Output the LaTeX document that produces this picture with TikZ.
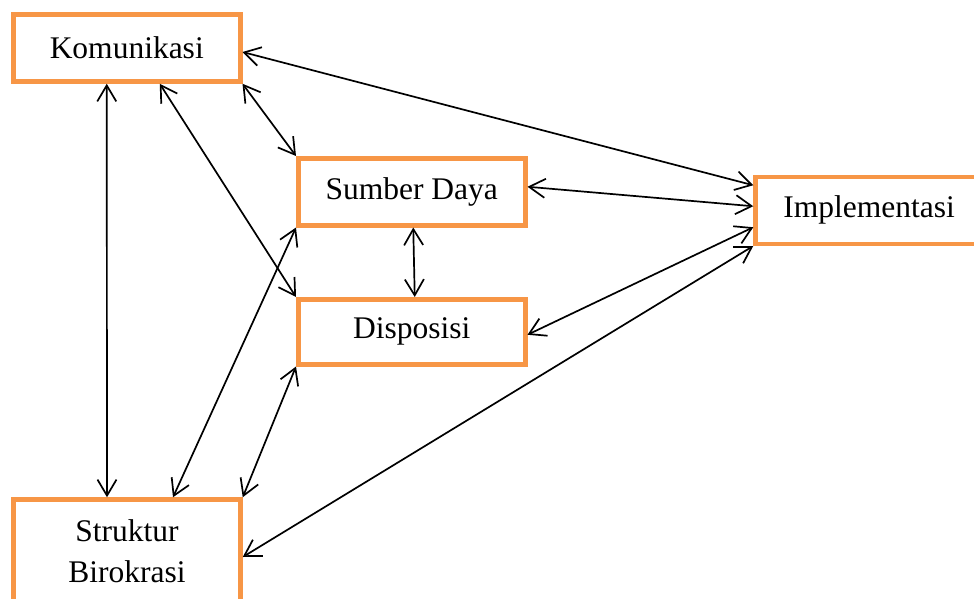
\documentclass[tikz,border=0pt]{standalone}
\usepackage{fontspec}
\setmainfont{Liberation Serif}
\usetikzlibrary{arrows.meta,calc}
\definecolor{boxorange}{HTML}{F79646}
\begin{document}
\begin{tikzpicture}[x=1pt,y=-1pt,
  box/.style={draw=boxorange, line width=4.5pt, fill=white,
    minimum width=227pt, minimum height=67pt, inner sep=0pt,
    font=\fontsize{31.5}{41}\selectfont, align=center},
  barb/.tip={Straight Barb[length=16pt,width=19pt]},
  link/.style={line width=1.7pt, barb-barb}]
\useasboundingbox (0,0) rectangle (974,599);
\clip (0,0) rectangle (974,599);

% factor boxes
\node[box] (kom) at (126.75,48) {Komunikasi};
\node[box] (sd)  at (411.75,191.75) {Sumber Daya};
\node[box, minimum height=65pt] (dis) at (411.75,331.75) {Disposisi};
\node[box] (imp) at (869,210.25) {Implementasi};
\node[box, minimum height=104pt] (sb) at (127,551.5) {Struktur\\Birokrasi};

% links to Implementasi
\draw[link] ([shift={(0,4)}]kom.east) -- ([shift={(0,-25)}]imp.west);
\draw[link] ([shift={(0,-5)}]sd.east) -- ([shift={(0,-4)}]imp.west);
\draw[link] ([shift={(0,3)}]dis.east) -- ([shift={(0,17)}]imp.west);
\draw[link] ([shift={(0,5.5)}]sb.east) -- (imp.south west);

% links among the factors
\draw[link] ([shift={(-20,0)}]kom.south) -- ([shift={(-20,0)}]sb.north);
\draw[link] ([shift={(33,0)}]kom.south) -- (dis.north west);
\draw[link] (kom.south east) -- (sd.north west);
\draw[link] ([shift={(1.5,0)}]sd.south) -- ([shift={(3,0)}]dis.north);
\draw[link] ([shift={(46,0)}]sb.north) -- (sd.south west);
\draw[link] (sb.north east) -- (dis.south west);
\end{tikzpicture}
\end{document}
